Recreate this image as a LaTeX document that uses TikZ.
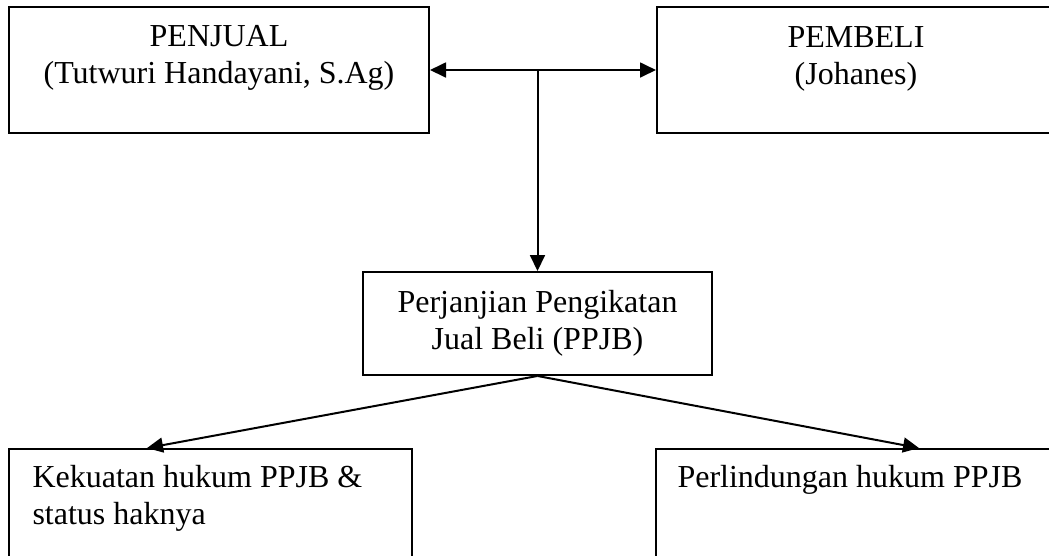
\documentclass[tikz,border=0pt]{standalone}
\usepackage{fontspec}
\setmainfont{Liberation Serif}
\usetikzlibrary{arrows.meta,calc}
\begin{document}
\begin{tikzpicture}[x=0.375pt,y=-0.375pt,
  box/.style={draw,line width=0.75pt,rectangle,inner sep=0pt},
  txt/.style={inner sep=0pt,font=\fontsize{12}{13.8}\selectfont},
  conn/.style={line width=0.75pt},
  tip/.style={-{Triangle[length=6pt,width=5.6pt]}},
  dtip/.style={{Triangle[length=6pt,width=5.6pt]}-{Triangle[length=6pt,width=5.6pt]}}]
\useasboundingbox (0,0) rectangle (1049,555);
\clip (0,0) rectangle (1049,555);
% boxes
\node[box,minimum width=157.5pt,minimum height=47.25pt] (b1) at (219,70) {};
\node[box,minimum width=149.25pt,minimum height=47.25pt] (b2) at (856,70) {};
\node[box,minimum width=130.9pt,minimum height=38.6pt] (pp) at (537.5,323.5) {};
\node[box,minimum width=151.1pt,minimum height=56.6pt] (kb) at (210.5,524.5) {};
\node[box,minimum width=149.6pt,minimum height=56.6pt] (pr) at (855.5,524.5) {};
% texts
\node[txt,align=center,anchor=north] (t1) at (219,19.3) {\rule{0pt}{10pt}PENJUAL\\(Tutwuri Handayani, S.Ag)};
\node[txt,align=center,anchor=north] (t2) at (856,20.3) {\rule{0pt}{10pt}PEMBELI\\(Johanes)};
\node[txt,align=center,anchor=north] (t3) at (537.5,285.3) {\rule{0pt}{10pt}Perjanjian Pengikatan\\Jual Beli (PPJB)};
\node[txt,align=left,anchor=north west] (t4) at (32,460.3) {\rule{0pt}{10pt}Kekuatan hukum PPJB \&\\status haknya};
\node[txt,align=left,anchor=north west] (t5) at (677,460.3) {\rule{0pt}{10pt}Perlindungan hukum PPJB};
% connectors
\draw[conn,dtip] (b1.east) -- (b2.west);
\coordinate (j) at (pp.north |- b1.east);
\draw[conn,tip] (j) -- (pp.north);
\coordinate (kt) at ($(kb.north west)+(139,0)$);
\coordinate (pt) at ($(pr.north west)+(264,0)$);
\draw[conn,tip] (pp.south) -- (kt);
\draw[conn,tip] (pp.south) -- (pt);
\end{tikzpicture}
\end{document}
